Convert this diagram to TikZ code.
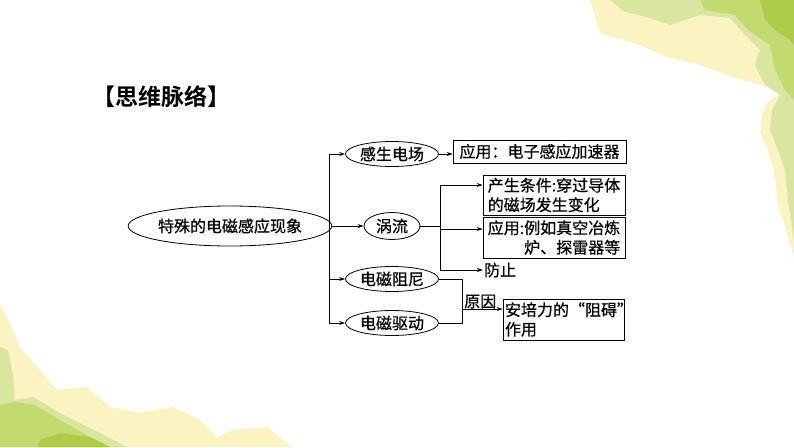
\documentclass[tikz,border=0pt]{standalone}
\usepackage{fontspec}
\newfontfamily\song{Noto Sans CJK SC}[FakeBold=0.6]
\newfontfamily\hei{Noto Sans CJK SC}[BoldFont={* Bold}]
\usetikzlibrary{shapes.geometric,arrows.meta}
\definecolor{pyellow}{HTML}{FBF3C2}
\definecolor{lgreen}{HTML}{D8E6A0}
\definecolor{mgreen}{HTML}{C3DA70}
\definecolor{dgreen}{HTML}{AECB4C}
\tikzset{
  ell/.style={draw,ellipse,line width=0.8pt,inner sep=0pt,font=\song\fontsize{16}{19.5}\selectfont},
  bx/.style={draw,rectangle,line width=0.9pt,inner sep=1.5pt,font=\song\fontsize{16}{19.5}\selectfont},
  plain/.style={inner sep=1pt,font=\song\fontsize{16}{19.5}\selectfont},
  ln/.style={line width=0.8pt},
  arr/.style={line width=0.8pt,-{Stealth[length=6pt,width=4pt]}},
}
\begin{document}
\begin{tikzpicture}[x=1pt,y=-1pt]
\useasboundingbox (0,0) rectangle (794,447);
% background decorations
\fill[pyellow] (590,0) -- (600,33) -- (640,45) -- (667,57) -- (700,65) -- (733,77) -- (767,87) -- (780,93) -- (765,105) -- (763,112) -- (760,133) -- (768,150) -- (773,167) -- (776,185) -- (777,200) -- (783,220) -- (787,233) -- (794,257) -- (794,0) -- cycle;
\fill[lgreen] (610,0) -- (625,12) -- (650,18) -- (670,25) -- (700,15) -- (730,18) -- (745,35) -- (760,50) -- (755,65) -- (765,85) -- (780,95) -- (772,110) -- (770,130) -- (778,150) -- (785,170) -- (788,200) -- (794,240) -- (794,0) -- cycle;
\fill[mgreen] (700,0) -- (705,10) -- (735,15) -- (748,30) -- (770,45) -- (775,70) -- (785,90) -- (794,100) -- (794,0) -- cycle;
\fill[dgreen] (760,0) -- (765,20) -- (775,30) -- (790,40) -- (794,45) -- (794,0) -- cycle;
\fill[pyellow] (0,305) -- (10,323) -- (20,347) -- (37,367) -- (57,390) -- (87,387) -- (110,407) -- (140,413) -- (173,407) -- (200,420) -- (217,437) -- (233,430) -- (267,427) -- (292,447) -- (0,447) -- cycle;
\fill[lgreen] (0,347) -- (8,350) -- (13,375) -- (15,400) -- (33,397) -- (60,413) -- (100,433) -- (127,447) -- (0,447) -- cycle;
\fill[mgreen] (0,405) -- (15,402) -- (35,405) -- (60,420) -- (90,437) -- (110,447) -- (0,447) -- cycle;
\fill[dgreen] (40,440) -- (60,433) -- (90,437) -- (110,447) -- (38,447) -- cycle;
% title
\node[font=\hei\bfseries\fontsize{23}{26}\selectfont,anchor=west,inner sep=0pt] (title) at (92,97) {【思维脉络】};
% nodes
\node[ell,minimum width=187pt,minimum height=40pt] (main) at (230,226) {特殊的电磁感应现象};
\node[ell,minimum width=93pt,minimum height=25pt] (gs) at (392,154) {感生电场};
\node[ell,minimum width=56pt,minimum height=27pt] (wl) at (392,226) {涡流};
\node[ell,minimum width=93pt,minimum height=25pt] (zn) at (392,279) {电磁阻尼};
\node[ell,minimum width=93pt,minimum height=25pt] (qd) at (392,323) {电磁驱动};
\node[bx,minimum width=173pt,minimum height=23pt] (b1) at (539.5,151.5) {应用：电子感应加速器};
\node[bx,minimum width=142pt,minimum height=40pt,align=left] (b2) at (554,195) {产生条件:穿过导体\\的磁场发生变化};
\node[bx,minimum width=142pt,minimum height=41pt,align=right] (b3) at (554,237.5) {应用:例如真空冶炼\\炉、探雷器等};
\node[plain,anchor=west] (fz) at (483,270) {防止};
\node[bx,minimum width=121pt,minimum height=41pt,align=left,text width=117pt] (b4) at (563.5,319.5) {安培力的“阻碍”\\作用};
% coordinates
\coordinate (tTop) at (329,154);
\coordinate (tMid) at (329,226);
\coordinate (tZn) at (329,279);
\coordinate (tBot) at (329,323);
\coordinate (wTop) at (440,185);
\coordinate (wMid) at (440,226);
\coordinate (wB3) at (440,229);
\coordinate (wBot) at (440,270);
\coordinate (rTop) at (462,279);
\coordinate (rBot) at (462,323);
\coordinate (rMid) at (462,309);
% connectors
\draw[ln] (tTop) -- (tBot);
\draw[arr] (main.east) -- (wl.west);
\draw[arr] (tTop) -- (gs.west);
\draw[arr] (tZn) -- (zn.west);
\draw[arr] (tBot) -- (qd.west);
\draw[arr] (gs.east) -- (b1.west |- gs.east);
\draw[ln] (wl.east) -- (wMid);
\draw[ln] (wTop) -- (wBot);
\draw[arr] (wTop) -- (b2.west |- wTop);
\draw[arr] (wB3) -- (b3.west |- wB3);
\draw[arr] (wBot) -- (fz.west);
\draw[ln] (zn.east) -- (rTop) -- (rBot) -- (qd.east);
\draw[arr] (rMid) -- node[plain,above,pos=0.45,yshift=-1pt] (yy) {原因} (b4.west |- rMid);
\end{tikzpicture}
\end{document}
